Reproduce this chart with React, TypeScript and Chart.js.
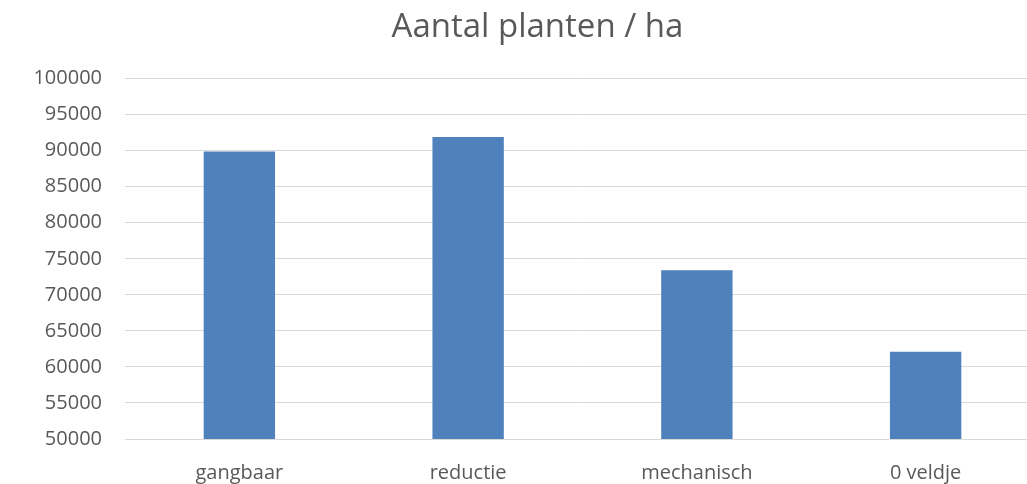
import React, { useEffect, useRef } from "react";
import { Chart, registerables } from "chart.js";

Chart.register(...registerables);

const titleText = "Aantal planten / ha";
const categories = ["gangbaar", "reductie", "mechanisch", "0 veldje"];
const plantsPerHa = [89900, 91900, 73400, 62100];
const yMin = 50000;
const yMax = 100000;
const yStep = 5000;

const FONT = "'Open Sans', 'Liberation Sans', sans-serif";
const TEXT = "#595959";
const GRID = "#D9D9D9";

export default function App() {
  const ref = useRef<HTMLCanvasElement | null>(null);
  useEffect(() => {
    if (!ref.current) return;
    const chart = new Chart(ref.current, {
      type: "bar",
      data: {
        labels: categories,
        datasets: [
          {
            data: plantsPerHa,
            backgroundColor: "#4F81BD",
            borderWidth: 0,
            categoryPercentage: 1,
            barPercentage: 0.312,
          },
        ],
      },
      options: {
        animation: false,
        responsive: true,
        maintainAspectRatio: false,
        layout: { padding: { top: 0, right: 35, left: 35, bottom: 0 } },
        plugins: {
          legend: { display: false },
          title: {
            display: true,
            text: titleText,
            color: TEXT,
            font: { family: FONT, size: 33, weight: "normal" },
            padding: { top: 8, bottom: 31 },
          },
          tooltip: { enabled: false },
        },
        scales: {
          x: {
            grid: { display: false },
            border: { display: true, color: GRID, width: 1 },
            ticks: { color: TEXT, font: { family: FONT, size: 20 }, padding: 14 },
            afterFit(scale: any) {
              scale.height = 45;
            },
          },
          y: {
            min: yMin,
            max: yMax,
            ticks: {
              stepSize: yStep,
              color: TEXT,
              font: { family: FONT, size: 20 },
              padding: 23,
              callback: (v: any) => String(v),
            },
            grid: { color: GRID, lineWidth: 1, drawTicks: false },
            border: { display: false },
            afterFit(scale: any) {
              scale.width = 90;
            },
          },
        },
      },
    });
    return () => chart.destroy();
  }, []);
  return (
    <div style={{ position: "fixed", left: 0, top: 0, width: 1027, height: 484, overflow: "hidden", background: "#fff" }}>
      <div style={{ position: "relative", width: 1075, height: 484 }}>
        <canvas ref={ref} />
      </div>
    </div>
  );
}
